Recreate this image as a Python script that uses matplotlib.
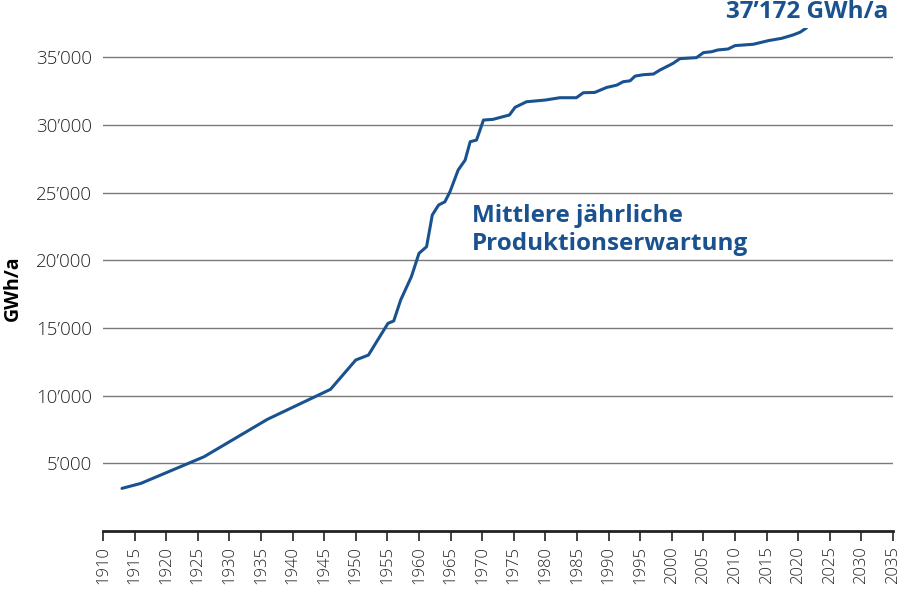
import matplotlib.pyplot as plt
from matplotlib.ticker import FuncFormatter

# --------------------------
# DATA
# --------------------------
years = [1913, 1916, 1926, 1936, 1946, 1950, 1952, 1953.3, 1955.1, 1956, 1957.1,
         1958.8, 1960, 1961.2, 1962.1, 1963.1, 1964.1, 1964.9, 1966.2, 1967.3,
         1968.1, 1969.1, 1970.2, 1971.7, 1973.3, 1974.3, 1975.2, 1977, 1980,
         1982.3, 1984.9, 1986, 1987.8, 1989.7, 1991.3, 1992.3, 1993.4, 1994.2,
         1995.5, 1997.1, 1998.1, 1999.5, 2000.2, 2001.3, 2003.9, 2005, 2006.3,
         2007.3, 2008.9, 2010, 2012.9, 2015.3, 2017.4, 2019.2, 2020.3, 2021.3]
production = [3150, 3520, 5490, 8250, 10470, 12640, 13000, 13990, 15350, 15520, 17070,
              18800, 20520, 21010, 23350, 24090, 24330, 25070, 26680, 27410,
              28770, 28890, 30370, 30420, 30620, 30740, 31310, 31720, 31850,
              32020, 32020, 32390, 32410, 32780, 32950, 33200, 33270, 33620,
              33720, 33770, 34060, 34390, 34560, 34910, 34980, 35350, 35420,
              35550, 35620, 35870, 35970, 36240, 36410, 36660, 36860, 37172]

x_ticks = list(range(1910, 2036, 5))
y_ticks = [5000, 10000, 15000, 20000, 25000, 30000, 35000]

BLUE = "#1a5290"
GRID = "#7a7a7a"

plt.rcParams['font.family'] = ['Open Sans', 'DejaVu Sans']

fig = plt.figure(figsize=(9, 6), dpi=100)
ax = fig.add_axes([103 / 900, 1 - 531 / 600, 790 / 900, 503 / 600])

ax.plot(years, production, color=BLUE, linewidth=2.2, solid_capstyle='round',
        solid_joinstyle='round', zorder=3)

ax.set_xlim(1910, 2035)
ax.set_ylim(0, 37172)
ax.set_xticks(x_ticks)
ax.set_xticklabels([str(y) for y in x_ticks], rotation=90, fontsize=12,
                   fontweight='light', color="#222222")
ax.set_yticks(y_ticks)
ax.yaxis.set_major_formatter(FuncFormatter(lambda v, p: f"{int(v):,}".replace(",", "\u2019")))
for lab in ax.get_yticklabels():
    lab.set_fontweight('light')
ax.tick_params(axis='y', length=0, pad=8, labelsize=13.5, labelcolor="#222222")
ax.tick_params(axis='x', direction='out', length=7, width=1.2, color="#222222", pad=4)

ax.grid(axis='y', color=GRID, linewidth=1.0)
ax.set_axisbelow(True)
for side in ['top', 'right', 'left']:
    ax.spines[side].set_visible(False)
ax.spines['bottom'].set_linewidth(2)
ax.spines['bottom'].set_color("#222222")

# y axis title
fig.text(13 / 900, 1 - 288 / 600, "GWh/a", fontsize=14, fontweight='bold',
         rotation=90, ha='center', va='center')

ax.text(1968.4, 22830, "Mittlere jährliche", fontsize=17.5,
        fontweight='bold', color=BLUE, va='baseline', ha='left')
ax.text(1968.4, 20760, "Produktionserwartung", fontsize=17.5,
        fontweight='bold', color=BLUE, va='baseline', ha='left')
ax.text(2034.2, 37907, "37\u2019172 GWh/a", fontsize=17.5, fontweight='bold',
        color=BLUE, ha='right', va='baseline', clip_on=False)

fig.savefig("out.png", dpi=100)
